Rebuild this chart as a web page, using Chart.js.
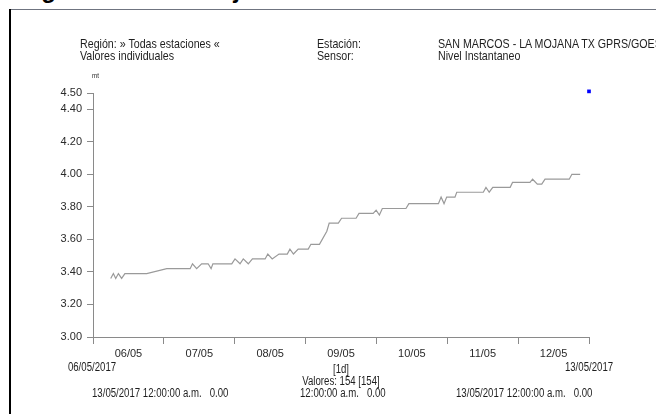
<!DOCTYPE html>
<html>
<head>
<meta charset="utf-8">
<script src="https://cdn.jsdelivr.net/npm/chart.js@4/dist/chart.umd.min.js"></script>
<style>
  html, body { margin:0; padding:0; background:#fff; }
  #wrap { position:relative; width:656px; height:414px; overflow:hidden; background:#fff; }
  #cv { position:absolute; left:0; top:0; }
  .t { position:absolute; white-space:nowrap; font-family:"Liberation Sans",Arial,sans-serif; font-size:12.5px; line-height:14px; color:#1e1e1e; transform-origin:0 0; transform:scaleX(0.77); }
  .h { font-size:13.5px; line-height:14px; transform:scaleX(0.79); }
  .c { transform:scaleX(0.77) translateX(-50%); }
  .ttl { position:absolute; top:-24px; white-space:nowrap; font-family:"Liberation Sans",Arial,sans-serif; font-weight:bold; font-size:24px; line-height:28px; color:#000; }
  #bl { position:absolute; left:9px; top:9px; width:2px; height:420px; background:#000; }
  #bt { position:absolute; left:9px; top:9px; width:660px; height:1px; background:#6f7480; }
</style>
</head>
<body>
<div id="wrap">
  <div class="ttl" style="left:0px">Imagen</div>
  <div class="ttl" style="left:164px">La Mojana</div>
  <div id="bt"></div>
  <div id="bl"></div>
  <canvas id="cv" width="656" height="414"></canvas>
  <div class="t h" style="left:80px;top:37px">Región: » Todas estaciones «</div>
  <div class="t h" style="left:80px;top:49px">Valores individuales</div>
  <div class="t h" style="left:317px;top:37px">Estación:</div>
  <div class="t h" style="left:317px;top:49px">Sensor:</div>
  <div class="t h" style="left:438px;top:37px">SAN MARCOS - LA MOJANA TX GPRS/GOES</div>
  <div class="t h" style="left:438px;top:49px">Nivel Instantaneo</div>
  <div class="t" style="left:92px;top:71px;font-size:8px;line-height:10px">mt</div>
  <div class="t c" style="left:92px;top:360px">06/05/2017</div>
  <div class="t c" style="left:589px;top:360px">13/05/2017</div>
  <div class="t c" style="left:341px;top:362px">[1d]</div>
  <div class="t c" style="left:341px;top:374px">Valores: 154 [154]</div>
  <div class="t" style="left:92px;top:386px">13/05/2017 12:00:00 a.m.&nbsp;&nbsp;&nbsp;0.00</div>
  <div class="t" style="left:300px;top:386px">12:00:00 a.m.&nbsp;&nbsp;&nbsp;0.00</div>
  <div class="t" style="left:456px;top:386px">13/05/2017 12:00:00 a.m.&nbsp;&nbsp;&nbsp;0.00</div>
</div>
<script>
// Hours since 06/05/2017 00:00
const hours = [6.0,6.9,7.7,8.6,9.7,10.8,18.2,25.0,32.9,33.7,35.1,36.8,39.0,40.0,40.6,47.0,48.1,49.8,50.9,52.6,54.0,58.3,59.2,60.7,63.0,65.8,66.7,67.9,69.5,72.9,73.8,76.7,79.2,80.0,83.1,84.2,89.1,90.1,94.9,95.9,97.0,98.0,106.0,107.0,117.0,117.9,118.9,119.8,122.6,123.2,132.2,133.1,134.2,135.4,141.3,142.1,148.0,148.9,150.5,152.0,153.1,161.3,162.2,165.0];
const levels = [3.36,3.39,3.36,3.39,3.36,3.39,3.39,3.42,3.42,3.45,3.42,3.45,3.45,3.42,3.45,3.45,3.48,3.45,3.48,3.45,3.48,3.48,3.51,3.48,3.51,3.51,3.54,3.51,3.54,3.54,3.57,3.57,3.65,3.70,3.70,3.73,3.73,3.76,3.76,3.78,3.75,3.79,3.79,3.82,3.82,3.86,3.82,3.86,3.86,3.89,3.89,3.92,3.89,3.92,3.92,3.95,3.95,3.97,3.94,3.94,3.97,3.97,4.00,4.00];
const dayLabels = ["06/05","07/05","08/05","09/05","10/05","11/05","12/05"];
const yTickValues = [3.00,3.20,3.40,3.60,3.80,4.00,4.20,4.40,4.50];
const markerHour = [168];
const markerLevel = [4.51];

const tickFont = { family: '"Liberation Sans",Arial,sans-serif', size: 11 };
const axisGray = '#8a8a8a';

new Chart(document.getElementById('cv'), {
  type: 'line',
  data: {
    datasets: [
      {
        data: hours.map((h, i) => ({ x: h, y: levels[i] })),
        borderColor: '#9a9a9a',
        borderWidth: 1.2,
        pointRadius: 0,
        tension: 0,
        fill: false
      },
      {
        type: 'scatter',
        data: markerHour.map((h, i) => ({ x: h, y: markerLevel[i] })),
        pointStyle: 'rect',
        pointRadius: 2.6,
        backgroundColor: '#0000ff',
        borderColor: '#0000ff',
        borderWidth: 0,
        clip: false
      }
    ]
  },
  options: {
    responsive: false,
    animation: false,
    events: [],
    layout: { padding: { left: 0, top: 93, right: 67, bottom: 0 } },
    plugins: { legend: { display: false }, tooltip: { enabled: false } },
    scales: {
      x: {
        type: 'linear',
        min: 0, max: 168,
        afterBuildTicks: s => { const t = []; for (let v = 0; v <= 168; v += 12) t.push({ value: v }); s.ticks = t; },
        afterFit: s => { s.height = 77; },
        ticks: {
          autoSkip: false, maxRotation: 0, minRotation: 0,
          color: '#2a2a2a', font: tickFont, padding: 3,
          callback: v => (v % 24 === 12 ? dayLabels[(v - 12) / 24] : '')
        },
        grid: {
          drawOnChartArea: false,
          tickLength: 7,
          tickColor: c => (c.tick && c.tick.value % 24 === 0 ? axisGray : 'rgba(0,0,0,0)')
        },
        border: { display: true, color: axisGray, width: 1 }
      },
      y: {
        type: 'linear',
        min: 3.0, max: 4.5,
        afterBuildTicks: s => { s.ticks = yTickValues.map(v => ({ value: v })); },
        afterFit: s => { s.width = 93; },
        ticks: { color: '#2a2a2a', font: tickFont, padding: 5, callback: v => Number(v).toFixed(2) },
        grid: { drawOnChartArea: false, tickLength: 6, tickColor: axisGray },
        border: { display: true, color: axisGray, width: 1 }
      }
    }
  }
});
</script>
</body>
</html>
